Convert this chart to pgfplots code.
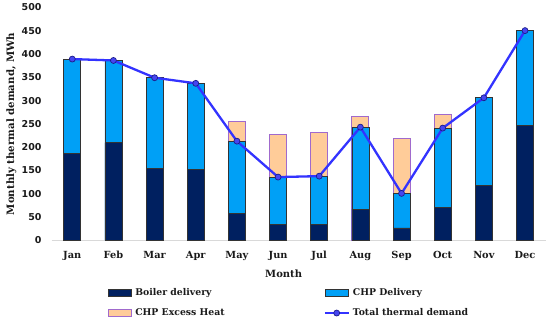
\documentclass[border=0pt]{standalone}
\usepackage{fontspec}
\setmainfont{DejaVu Serif}
\newfontfamily\tickfont{DejaVu Sans}
\usepackage{pgfplots}
\pgfplotsset{compat=1.18}
\definecolor{boiler}{HTML}{002060}
\definecolor{chp}{HTML}{00A0F6}
\definecolor{excess}{HTML}{FFCC99}
\definecolor{excessborder}{HTML}{A06ACD}
\definecolor{barborder}{HTML}{333333}
\definecolor{linecol}{HTML}{3333FF}
\definecolor{markfill}{HTML}{4646F0}
\definecolor{markdraw}{HTML}{1C1C8A}
\definecolor{txt}{HTML}{1A1A1A}
\pgfplotsset{
  boxlegend/.style={legend image code/.code={\draw[##1] (0pt,-4pt) rectangle (23pt,3pt);}},
  linelegend/.style={legend image code/.code={%
    \draw[##1, mark=none] (0pt,-0.5pt) -- (23.6pt,-0.5pt);
    \draw[##1] plot[only marks] coordinates {(11.8pt,-0.5pt)};}},
}
\begin{document}
\begin{tikzpicture}[x=1pt,y=1pt]
\path[use as bounding box] (0,0) rectangle (550,321);
\begin{axis}[
  at={(51.7pt,80.5pt)}, anchor=south west,
  scale only axis, width=493.9pt, height=233.2pt,
  xmin=-0.5, xmax=11.5, ymin=0, ymax=500,
  ybar, bar width=17pt, bar shift=0pt,
  axis x line*=bottom, axis y line*=left,
  x axis line style={draw=black!15, line width=0.8pt, -},
  y axis line style={draw=none},
  major tick length=0pt,
  xtick={0,...,11},
  xticklabels={Jan,Feb,Mar,Apr,May,Jun,Jul,Aug,Sep,Oct,Nov,Dec},
  ytick={0,50,...,500},
  /pgf/number format/assume math mode=true,
  yticklabel style={font=\tickfont\bfseries\fontsize{9.5}{10}\selectfont, text=txt, inner sep=0pt, anchor=east, xshift=-10pt},
  xticklabel style={font=\bfseries\fontsize{9.8}{10}\selectfont, text=txt, inner sep=0pt, anchor=base, yshift=-18.5pt},
  xlabel={Month}, ylabel={Monthly thermal demand, MWh},
  every axis x label/.style={at={(axis description cs:0.4696,-0.1437)}, anchor=center, font=\bfseries\fontsize{10}{11}\selectfont, text=txt},
  every axis y label/.style={at={(axis description cs:-0.0814,0.5)}, anchor=center, rotate=90, font=\bfseries\fontsize{10.2}{11}\selectfont, text=txt},
  legend columns=2,
  legend style={at={(axis description cs:0.114,-0.203)}, anchor=north west, draw=none, fill=none, inner sep=0pt,
    font=\bfseries\fontsize{9.3}{10}\selectfont, text=txt,
    nodes={inner sep=0pt, text height=7pt, text depth=2pt},
    row sep=11pt,
    /tikz/every odd column/.append style={column sep=3.3pt},
    /tikz/every even column/.append style={column sep=0pt}},
  legend cell align=left,
]
% legend images in reference order
\addlegendimage{boxlegend, fill=boiler, draw=barborder, line width=0.6pt}
\addlegendentry{\makebox[188.5pt][l]{Boiler delivery}}
\addlegendimage{boxlegend, fill=chp, draw=barborder, line width=0.6pt}
\addlegendentry{CHP Delivery}
\addlegendimage{boxlegend, fill=excess, draw=excessborder, line width=0.8pt}
\addlegendentry{\makebox[188.5pt][l]{CHP Excess Heat}}
\addlegendimage{linelegend, color=linecol, line width=2.2pt, mark=*, mark size=3pt, mark options={fill=markfill, draw=markdraw, line width=0.7pt}}
\addlegendentry{Total thermal demand}
% CHP excess heat (top of stack = delivered + excess)
\addplot[forget plot, fill=excess, draw=excessborder, line width=0.8pt] coordinates {
  (4,255) (5,228) (6,232) (7,265) (8,218) (9,271)};
% CHP delivery (top = boiler + CHP)
\addplot[forget plot, fill=chp, draw=barborder, line width=0.7pt] coordinates {
  (0,389) (1,386) (2,349) (3,337) (4,213) (5,136) (6,138) (7,243) (8,101) (9,241) (10,306) (11,450)};
% Boiler delivery
\addplot[forget plot, fill=boiler, draw=barborder, line width=0.7pt] coordinates {
  (0,187) (1,210) (2,155) (3,153) (4,58) (5,35) (6,35) (7,67) (8,27) (9,71) (10,118) (11,247)};
% Total thermal demand
\addplot[forget plot, sharp plot, color=linecol, line width=2.3pt, mark=*, mark size=3pt,
  mark options={fill=markfill, draw=markdraw, line width=0.7pt}] coordinates {
  (0,389) (1,386) (2,349) (3,337) (4,213) (5,136) (6,138) (7,243) (8,101) (9,241) (10,306) (11,450)};
\end{axis}
\end{tikzpicture}
\end{document}
